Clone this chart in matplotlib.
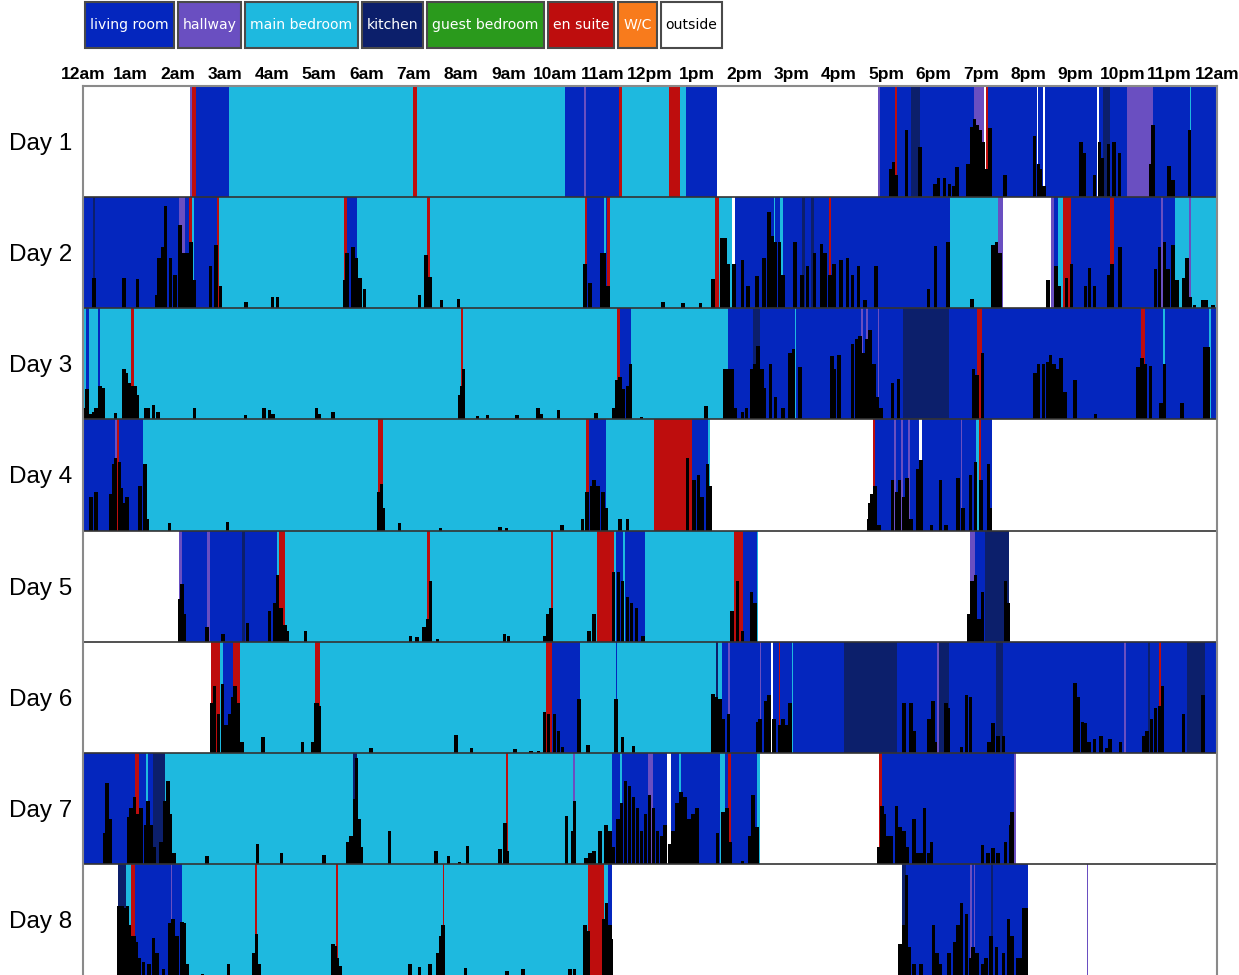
import matplotlib.pyplot as plt
from matplotlib.patches import Rectangle

# legend / rooms
room_names = ['living room', 'hallway', 'main bedroom', 'kitchen', 'guest bedroom', 'en suite', 'W/C', 'outside']
room_codes = ['L', 'H', 'M', 'K', 'G', 'E', 'W', 'O']
room_colors = ['#0426be', '#6a4fc1', '#1eb9df', '#0c1f6b', '#2a9a1c', '#be0d0d', '#f87b1c', '#ffffff']
text_colors = ['white', 'white', 'white', 'white', 'white', 'white', 'white', 'black']

hour_labels = ['12am', '1am', '2am', '3am', '4am', '5am', '6am', '7am', '8am', '9am', '10am', '11am',
               '12pm', '1pm', '2pm', '3pm', '4pm', '5pm', '6pm', '7pm', '8pm', '9pm', '10pm', '11pm', '12am']
day_labels = ['Day 1', 'Day 2', 'Day 3', 'Day 4', 'Day 5', 'Day 6', 'Day 7', 'Day 8']

# room occupancy: (start hour, room code), each lasts until the next start
day1_rooms = [(0, 'O'), (2.26, 'H'), (2.30, 'E'), (2.40, 'L'), (3.09, 'M'), (6.98, 'E'), (7.06, 'M'),
              (10.21, 'L'), (10.60, 'H'), (10.65, 'L'), (11.34, 'E'), (11.40, 'M'), (12.41, 'E'),
              (12.64, 'M'), (12.76, 'L'), (13.42, 'O'), (16.82, 'H'), (16.87, 'L'), (17.19, 'E'),
              (17.23, 'L'), (17.52, 'K'), (17.72, 'L'), (18.85, 'H'), (19.07, 'O'), (19.11, 'E'),
              (19.16, 'L'), (20.18, 'O'), (20.22, 'L'), (20.32, 'O'), (20.36, 'L'), (21.45, 'O'),
              (21.51, 'L'), (21.58, 'K'), (21.74, 'L'), (22.09, 'H'), (22.64, 'L'), (23.42, 'M'),
              (23.46, 'L')]
day2_rooms = [(0, 'L'), (0.21, 'K'), (0.25, 'L'), (2.03, 'H'), (2.15, 'L'), (2.25, 'E'), (2.30, 'M'),
              (2.34, 'L'), (2.83, 'E'), (2.88, 'M'), (5.53, 'E'), (5.59, 'L'), (5.80, 'M'), (7.28, 'E'),
              (7.34, 'M'), (10.63, 'E'), (10.67, 'L'), (11.03, 'M'), (11.06, 'L'), (11.09, 'E'),
              (11.15, 'M'), (13.38, 'E'), (13.46, 'M'), (13.74, 'O'), (13.80, 'L'), (14.62, 'M'),
              (14.65, 'L'), (14.76, 'M'), (14.81, 'L'), (15.22, 'K'), (15.29, 'L'), (15.40, 'K'),
              (15.48, 'L'), (15.78, 'E'), (15.83, 'L'), (18.35, 'M'), (19.37, 'H'), (19.48, 'O'),
              (20.49, 'H'), (20.55, 'L'), (20.64, 'M'), (20.74, 'E'), (20.92, 'L'), (21.74, 'E'),
              (21.81, 'L'), (22.81, 'H'), (22.85, 'L'), (23.11, 'M'), (23.41, 'H'), (23.46, 'M')]
day3_rooms = [(0, 'M'), (0.06, 'L'), (0.12, 'M'), (0.31, 'L'), (0.37, 'M'), (1.01, 'E'), (1.07, 'M'),
              (7.99, 'E'), (8.05, 'M'), (11.30, 'E'), (11.36, 'L'), (11.60, 'M'), (13.66, 'L'),
              (14.18, 'K'), (14.33, 'L'), (15.06, 'M'), (15.09, 'L'), (16.47, 'H'), (16.50, 'L'),
              (16.58, 'H'), (16.61, 'L'), (16.82, 'H'), (16.85, 'L'), (17.35, 'K'), (18.33, 'L'),
              (18.92, 'E'), (19.03, 'L'), (22.40, 'E'), (22.48, 'L'), (22.85, 'M'), (22.91, 'L'),
              (23.84, 'M'), (23.87, 'L')]
day4_rooms = [(0, 'L'), (0.67, 'H'), (0.71, 'E'), (0.77, 'L'), (1.26, 'M'), (6.25, 'E'), (6.34, 'M'),
              (10.65, 'E'), (10.71, 'L'), (11.06, 'M'), (12.08, 'E'), (12.89, 'L'), (13.22, 'M'),
              (13.27, 'O'), (16.72, 'E'), (16.76, 'L'), (17.17, 'H'), (17.20, 'L'), (17.32, 'H'),
              (17.35, 'L'), (17.47, 'H'), (17.50, 'L'), (17.70, 'O'), (17.75, 'L'), (18.58, 'H'),
              (18.61, 'L'), (18.89, 'M'), (18.96, 'E'), (19.00, 'L'), (19.24, 'O')]
day5_rooms = [(0, 'O'), (2.04, 'H'), (2.09, 'L'), (2.63, 'H'), (2.68, 'L'), (3.36, 'K'), (3.42, 'L'),
              (4.10, 'M'), (4.15, 'E'), (4.27, 'M'), (7.29, 'E'), (7.35, 'M'), (9.90, 'E'), (9.94, 'M'),
              (10.88, 'E'), (11.23, 'M'), (11.28, 'L'), (11.42, 'M'), (11.47, 'L'), (11.90, 'M'),
              (13.78, 'E'), (13.96, 'L'), (14.26, 'M'), (14.29, 'O'), (18.78, 'H'), (18.87, 'L'),
              (19.10, 'K'), (19.59, 'O')]
day6_rooms = [(0, 'O'), (2.70, 'E'), (2.91, 'M'), (2.97, 'L'), (3.17, 'E'), (3.33, 'M'), (4.92, 'E'),
              (5.01, 'M'), (9.79, 'E'), (9.92, 'L'), (10.52, 'M'), (11.28, 'L'), (11.31, 'M'),
              (13.40, 'K'), (13.43, 'M'), (13.52, 'L'), (13.66, 'H'), (13.69, 'L'), (14.32, 'H'),
              (14.35, 'L'), (14.56, 'O'), (14.60, 'L'), (14.72, 'E'), (14.76, 'L'), (15.00, 'M'),
              (15.03, 'L'), (16.11, 'K'), (17.22, 'L'), (18.07, 'H'), (18.11, 'K'), (18.33, 'L'),
              (19.33, 'K'), (19.48, 'L'), (22.04, 'H'), (22.07, 'L'), (22.55, 'K'), (22.58, 'L'),
              (22.78, 'E'), (22.81, 'L'), (23.37, 'K'), (23.74, 'L')]
day7_rooms = [(0, 'L'), (1.11, 'E'), (1.19, 'L'), (1.34, 'M'), (1.38, 'L'), (1.49, 'K'), (1.74, 'M'),
              (5.71, 'K'), (5.80, 'M'), (8.95, 'E'), (8.99, 'M'), (10.38, 'H'), (10.42, 'M'),
              (11.19, 'L'), (11.36, 'M'), (11.40, 'L'), (11.95, 'H'), (12.07, 'L'), (12.37, 'O'),
              (12.45, 'L'), (12.62, 'M'), (12.66, 'L'), (13.48, 'M'), (13.59, 'L'), (13.65, 'E'),
              (13.72, 'L'), (14.27, 'M'), (14.32, 'O'), (16.85, 'E'), (16.91, 'L'), (19.70, 'H'),
              (19.74, 'O')]
day8_rooms = [(0, 'O'), (0.75, 'K'), (0.90, 'M'), (1.01, 'E'), (1.09, 'L'), (1.86, 'H'), (1.89, 'L'),
              (2.10, 'M'), (3.64, 'E'), (3.69, 'M'), (5.36, 'E'), (5.39, 'M'), (7.62, 'E'), (7.65, 'M'),
              (10.69, 'E'), (11.02, 'M'), (11.11, 'L'), (11.19, 'O'), (17.33, 'K'), (17.41, 'L'),
              (18.78, 'H'), (18.81, 'L'), (18.85, 'H'), (18.88, 'L'), (19.22, 'K'), (19.25, 'L'),
              (20.00, 'O'), (21.24, 'H'), (21.28, 'O')]

# movement activity: (hour, level as a fraction of the row height)
day1_activity = [(17.09, 0.25), (17.15, 0.32), (17.21, 0.2), (17.43, 0.6), (17.72, 0.45), (18.03, 0.12),
                 (18.11, 0.17), (18.23, 0.17), (18.34, 0.12), (18.42, 0.1), (18.5, 0.27), (18.73, 0.3),
                 (18.81, 0.63), (18.87, 0.7), (18.93, 0.65), (18.99, 0.6), (19.05, 0.5), (19.12, 0.25),
                 (19.2, 0.62), (19.51, 0.2), (20.14, 0.55), (20.22, 0.3), (20.26, 0.25), (20.34, 0.1),
                 (21.12, 0.5), (21.18, 0.4), (21.41, 0.2), (21.51, 0.5), (21.58, 0.35), (21.7, 0.48),
                 (21.82, 0.5), (21.94, 0.4), (22.6, 0.3), (22.64, 0.65), (22.98, 0.28), (23.07, 0.15),
                 (23.42, 0.6)]
day2_activity = [(0.23, 0.27), (0.87, 0.27), (1.15, 0.26), (1.57, 0.12), (1.61, 0.45), (1.69, 0.55),
                 (1.75, 0.92), (1.85, 0.45), (1.95, 0.3), (2.05, 0.75), (2.14, 0.5), (2.21, 0.5),
                 (2.28, 0.6), (2.36, 0.25), (2.7, 0.38), (2.82, 0.57), (2.91, 0.2), (3.45, 0.06),
                 (4.01, 0.1), (4.12, 0.1), (5.53, 0.25), (5.59, 0.5), (5.71, 0.55), (5.78, 0.45),
                 (5.86, 0.27), (5.96, 0.17), (7.12, 0.12), (7.26, 0.48), (7.34, 0.28), (7.59, 0.07),
                 (7.95, 0.08), (10.62, 0.4), (10.73, 0.23), (10.97, 0.5), (11.03, 0.5), (11.11, 0.2),
                 (12.28, 0.06), (12.7, 0.05), (13.07, 0.05), (13.33, 0.26), (13.52, 0.63), (13.59, 0.63),
                 (13.66, 0.4), (13.78, 0.4), (13.96, 0.43), (14.07, 0.2), (14.27, 0.29), (14.41, 0.45),
                 (14.52, 0.87), (14.59, 0.65), (14.66, 0.6), (14.74, 0.6), (14.81, 0.3), (15.07, 0.6),
                 (15.22, 0.3), (15.33, 0.38), (15.48, 0.5), (15.63, 0.58), (15.7, 0.5), (15.81, 0.3),
                 (15.89, 0.4), (16.04, 0.43), (16.18, 0.45), (16.29, 0.3), (16.41, 0.38), (16.55, 0.07),
                 (16.78, 0.38), (17.89, 0.17), (18.04, 0.56), (18.31, 0.6), (18.81, 0.08), (19.26, 0.57),
                 (19.33, 0.6), (19.41, 0.5), (20.42, 0.25), (20.59, 0.38), (20.66, 0.2), (20.81, 0.27),
                 (20.92, 0.4), (21.22, 0.2), (21.3, 0.36), (21.41, 0.2), (21.7, 0.3), (21.78, 0.4),
                 (21.95, 0.55), (22.7, 0.35), (22.78, 0.55), (22.89, 0.6), (22.96, 0.35), (23.07, 0.57),
                 (23.15, 0.25), (23.29, 0.27), (23.37, 0.45), (23.44, 0.1), (23.52, 0.03), (23.7, 0.07),
                 (23.78, 0.07), (23.92, 0.03)]
day3_activity = [(0.02, 0.1), (0.09, 0.27), (0.15, 0.05), (0.23, 0.07), (0.27, 0.1), (0.36, 0.3),
                 (0.42, 0.28), (0.69, 0.06), (0.87, 0.45), (0.92, 0.42), (0.98, 0.33), (1.04, 0.3),
                 (1.11, 0.3), (1.15, 0.22), (1.32, 0.1), (1.38, 0.1), (1.49, 0.13), (1.59, 0.07),
                 (2.36, 0.1), (3.44, 0.04), (3.83, 0.1), (3.95, 0.08), (4.02, 0.05), (4.94, 0.1),
                 (5.0, 0.05), (5.29, 0.07), (7.97, 0.22), (8.01, 0.3), (8.05, 0.45), (8.35, 0.03),
                 (8.56, 0.04), (9.18, 0.04), (9.63, 0.1), (9.69, 0.05), (10.06, 0.08), (10.86, 0.06),
                 (11.23, 0.1), (11.3, 0.35), (11.36, 0.38), (11.44, 0.27), (11.53, 0.3), (11.59, 0.5),
                 (11.82, 0.02), (13.18, 0.12), (13.59, 0.45), (13.66, 0.45), (13.74, 0.45), (13.81, 0.1),
                 (13.96, 0.07), (14.04, 0.1), (14.15, 0.45), (14.22, 0.5), (14.29, 0.66), (14.37, 0.45),
                 (14.41, 0.28), (14.55, 0.5), (14.66, 0.2), (14.81, 0.1), (14.96, 0.6), (15.04, 0.63),
                 (15.18, 0.47), (15.85, 0.57), (15.89, 0.45), (16.0, 0.58), (16.29, 0.68), (16.37, 0.72),
                 (16.44, 0.75), (16.52, 0.6), (16.59, 0.72), (16.66, 0.8), (16.74, 0.5), (16.81, 0.2),
                 (16.89, 0.1), (17.13, 0.33), (17.26, 0.36), (18.85, 0.45), (18.92, 0.4), (19.04, 0.6),
                 (20.15, 0.42), (20.22, 0.5), (20.33, 0.5), (20.41, 0.52), (20.48, 0.58), (20.55, 0.5),
                 (20.63, 0.45), (20.7, 0.55), (20.78, 0.25), (21.0, 0.35), (21.43, 0.05), (22.33, 0.47),
                 (22.41, 0.55), (22.48, 0.5), (22.59, 0.48), (22.81, 0.15), (22.89, 0.5), (23.26, 0.15),
                 (23.74, 0.65), (23.81, 0.65)]
day4_activity = [(0.17, 0.3), (0.27, 0.35), (0.58, 0.33), (0.65, 0.6), (0.69, 0.65), (0.77, 0.62),
                 (0.81, 0.38), (0.86, 0.25), (0.93, 0.3), (1.21, 0.4), (1.31, 0.6), (1.36, 0.1),
                 (1.83, 0.07), (3.06, 0.08), (6.27, 0.35), (6.32, 0.42), (6.36, 0.2), (6.7, 0.07),
                 (7.57, 0.02), (8.82, 0.03), (8.96, 0.02), (10.14, 0.05), (10.57, 0.1), (10.67, 0.35),
                 (10.76, 0.4), (10.81, 0.45), (10.9, 0.4), (11.0, 0.35), (11.07, 0.2), (11.37, 0.1),
                 (11.52, 0.1), (12.79, 0.65), (12.93, 0.45), (13.03, 0.5), (13.1, 0.3), (13.22, 0.6),
                 (13.28, 0.4), (16.63, 0.1), (16.66, 0.25), (16.7, 0.33), (16.76, 0.4), (16.85, 0.05),
                 (17.13, 0.45), (17.22, 0.35), (17.28, 0.45), (17.37, 0.3), (17.44, 0.47), (17.52, 0.1),
                 (17.66, 0.55), (17.74, 0.63), (17.96, 0.05), (18.15, 0.45), (18.26, 0.05), (18.52, 0.47),
                 (18.63, 0.2), (18.78, 0.5), (18.89, 0.62), (19.0, 0.45), (19.16, 0.6), (19.21, 0.2)]
day5_activity = [(2.04, 0.38), (2.09, 0.52), (2.14, 0.25), (2.63, 0.13), (2.96, 0.07), (3.48, 0.17),
                 (3.95, 0.28), (4.05, 0.35), (4.12, 0.6), (4.19, 0.3), (4.27, 0.15), (4.33, 0.1),
                 (4.71, 0.1), (6.93, 0.05), (7.07, 0.04), (7.22, 0.13), (7.29, 0.2), (7.35, 0.55),
                 (7.5, 0.02), (8.92, 0.07), (9.01, 0.05), (9.77, 0.05), (9.84, 0.25), (9.91, 0.3),
                 (10.71, 0.1), (10.81, 0.25), (11.23, 0.63), (11.33, 0.63), (11.42, 0.55), (11.52, 0.4),
                 (11.61, 0.35), (11.71, 0.3), (11.85, 0.05), (13.74, 0.28), (13.85, 0.55), (13.96, 0.1),
                 (14.15, 0.45), (14.22, 0.35), (18.74, 0.25), (18.81, 0.55), (18.89, 0.6), (18.96, 0.2),
                 (19.04, 0.45), (19.52, 0.55), (19.58, 0.35)]
day6_activity = [(2.72, 0.45), (2.78, 0.6), (2.87, 0.35), (2.95, 0.62), (3.03, 0.25), (3.1, 0.35),
                 (3.16, 0.5), (3.22, 0.6), (3.29, 0.45), (3.37, 0.1), (3.81, 0.14), (4.65, 0.1),
                 (4.87, 0.1), (4.92, 0.45), (4.96, 0.45), (5.01, 0.42), (6.09, 0.04), (7.89, 0.16),
                 (8.22, 0.04), (9.14, 0.03), (9.48, 0.02), (9.64, 0.02), (9.77, 0.37), (9.85, 0.35),
                 (9.98, 0.35), (10.06, 0.2), (10.15, 0.05), (10.5, 0.48), (10.69, 0.07), (11.28, 0.48),
                 (11.42, 0.14), (11.65, 0.06), (13.33, 0.53), (13.41, 0.5), (13.48, 0.48), (13.55, 0.3),
                 (13.66, 0.35), (14.29, 0.28), (14.33, 0.3), (14.44, 0.47), (14.52, 0.52), (14.63, 0.3),
                 (14.74, 0.25), (14.81, 0.3), (14.89, 0.25), (14.96, 0.45), (17.38, 0.45), (17.52, 0.45),
                 (17.59, 0.2), (17.91, 0.3), (17.99, 0.47), (18.04, 0.1), (18.26, 0.45), (18.32, 0.4),
                 (18.59, 0.05), (18.7, 0.52), (18.78, 0.5), (19.18, 0.1), (19.26, 0.27), (19.37, 0.15),
                 (19.48, 0.15), (21.0, 0.63), (21.06, 0.5), (21.15, 0.28), (21.21, 0.27), (21.29, 0.1),
                 (21.41, 0.12), (21.55, 0.15), (21.66, 0.04), (21.74, 0.12), (21.96, 0.1), (22.44, 0.15),
                 (22.52, 0.2), (22.61, 0.3), (22.7, 0.4), (22.78, 0.42), (22.85, 0.6), (23.29, 0.35),
                 (23.7, 0.52)]
day7_activity = [(0.46, 0.28), (0.51, 0.73), (0.57, 0.4), (0.96, 0.42), (1.02, 0.5), (1.09, 0.6),
                 (1.15, 0.45), (1.23, 0.5), (1.32, 0.35), (1.38, 0.57), (1.44, 0.35), (1.51, 0.15),
                 (1.65, 0.2), (1.74, 0.57), (1.8, 0.75), (1.85, 0.45), (1.93, 0.1), (2.63, 0.07),
                 (3.69, 0.18), (4.2, 0.1), (5.1, 0.08), (5.61, 0.2), (5.67, 0.25), (5.75, 0.58),
                 (5.79, 0.95), (5.84, 0.4), (5.88, 0.15), (6.49, 0.3), (7.47, 0.12), (7.74, 0.07),
                 (7.97, 0.02), (8.14, 0.16), (8.82, 0.13), (8.93, 0.37), (8.97, 0.12), (10.23, 0.43),
                 (10.36, 0.3), (10.4, 0.57), (10.65, 0.05), (10.73, 0.1), (10.82, 0.12), (10.94, 0.3),
                 (11.07, 0.35), (11.15, 0.3), (11.23, 0.15), (11.32, 0.4), (11.4, 0.55), (11.48, 0.75),
                 (11.57, 0.7), (11.65, 0.6), (11.74, 0.5), (11.82, 0.3), (11.9, 0.45), (11.99, 0.62),
                 (12.07, 0.5), (12.16, 0.3), (12.24, 0.25), (12.32, 0.35), (12.41, 0.18), (12.49, 0.3),
                 (12.57, 0.55), (12.66, 0.65), (12.74, 0.6), (12.82, 0.4), (12.91, 0.45), (12.99, 0.5),
                 (13.43, 0.28), (13.55, 0.47), (13.63, 0.5), (13.7, 0.2), (13.96, 0.03), (14.11, 0.25),
                 (14.18, 0.62), (14.26, 0.33), (16.85, 0.15), (16.91, 0.52), (16.96, 0.45), (17.04, 0.25),
                 (17.11, 0.25), (17.22, 0.52), (17.29, 0.33), (17.37, 0.3), (17.44, 0.15), (17.59, 0.4),
                 (17.66, 0.1), (17.74, 0.1), (17.81, 0.5), (17.89, 0.1), (17.96, 0.2), (19.04, 0.17),
                 (19.15, 0.1), (19.26, 0.14), (19.37, 0.1), (19.52, 0.2), (19.63, 0.35), (19.66, 0.47)]
day8_activity = [(0.75, 0.62), (0.82, 0.62), (0.87, 0.6), (0.94, 0.62), (0.98, 0.45), (1.02, 0.35),
                 (1.09, 0.35), (1.13, 0.3), (1.19, 0.15), (1.28, 0.12), (1.4, 0.1), (1.49, 0.33),
                 (1.57, 0.2), (1.7, 0.05), (1.84, 0.47), (1.9, 0.5), (1.99, 0.35), (2.1, 0.48),
                 (2.15, 0.47), (2.2, 0.1), (2.53, 0.01), (3.08, 0.1), (3.62, 0.2), (3.67, 0.37),
                 (3.72, 0.1), (5.29, 0.28), (5.34, 0.26), (5.39, 0.15), (5.44, 0.08), (6.92, 0.1),
                 (7.12, 0.07), (7.34, 0.1), (7.51, 0.2), (7.57, 0.35), (7.62, 0.45), (8.1, 0.06),
                 (8.97, 0.04), (9.31, 0.05), (10.31, 0.05), (10.4, 0.05), (10.63, 0.45), (10.69, 0.4),
                 (11.03, 0.5), (11.08, 0.65), (11.15, 0.45), (11.19, 0.32), (17.29, 0.28), (17.37, 0.45),
                 (17.43, 0.9), (17.48, 0.25), (17.59, 0.1), (17.74, 0.1), (18.0, 0.45), (18.07, 0.2),
                 (18.15, 0.1), (18.33, 0.2), (18.44, 0.3), (18.52, 0.45), (18.59, 0.65), (18.7, 0.55),
                 (18.78, 0.15), (18.84, 0.25), (18.92, 0.2), (19.04, 0.1), (19.11, 0.15), (19.22, 0.35),
                 (19.33, 0.25), (19.48, 0.2), (19.59, 0.5), (19.66, 0.35), (19.78, 0.15), (19.85, 0.15),
                 (19.92, 0.6), (19.97, 0.6)]

days_rooms = [day1_rooms, day2_rooms, day3_rooms, day4_rooms, day5_rooms, day6_rooms, day7_rooms, day8_rooms]
days_activity = [day1_activity, day2_activity, day3_activity, day4_activity,
                 day5_activity, day6_activity, day7_activity, day8_activity]

W, H = 1239, 975
fig = plt.figure(figsize=(W / 100, H / 100), dpi=100)
ax = fig.add_axes([83 / W, 0, (1217 - 83) / W, (975 - 86) / H])

color_of = dict(zip(room_codes, room_colors))

for i, (segs, acts) in enumerate(zip(days_rooms, days_activity)):
    starts = [s for s, _ in segs]
    ends = starts[1:] + [24]
    widths = [e - s for s, e in zip(starts, ends)]
    ax.barh([i + 0.5] * len(starts), widths, left=starts, height=1,
            color=[color_of[c] for _, c in segs], linewidth=0)
    # activity bars grow up from the bottom of each row
    ax.bar([t for t, _ in acts], [-v for _, v in acts], bottom=i + 1, width=0.075,
           color='black', linewidth=0)

ax.hlines(range(1, 8), 0, 24, color='#333333', lw=1.2)

ax.set_xlim(0, 24)
ax.set_ylim(8, 0)
ax.xaxis.tick_top()
ax.set_xticks(range(25))
ax.set_xticklabels(hour_labels, fontsize=12.5, fontweight='bold', family='Liberation Sans')
ax.set_yticks([i + 0.5 for i in range(8)])
ax.set_yticklabels(day_labels, fontsize=17.5, family='Liberation Sans')
ax.tick_params(axis='x', length=0, pad=3)
ax.tick_params(axis='y', length=0, pad=8)
for side in ['top', 'left', 'right']:
    ax.spines[side].set_color('#8a8a8a')
    ax.spines[side].set_linewidth(1.5)
ax.spines['bottom'].set_visible(False)

# room legend as a row of coloured boxes
renderer = fig.canvas.get_renderer()
x = 85
for name, col, tcol in zip(room_names, room_colors, text_colors):
    t = fig.text(0, 0, name, fontsize=10.1, family='DejaVu Sans', color=tcol,
                 ha='center', va='center', zorder=3)
    w = t.get_window_extent(renderer).width + 10
    fig.add_artist(Rectangle((x / W, 1 - 48 / H), w / W, 46 / H, transform=fig.transFigure,
                             facecolor=col, edgecolor='#4a4a4a', lw=1.5, zorder=2))
    t.set_position(((x + w / 2) / W, 1 - 25 / H))
    x += w + 4

fig.savefig('out.png', dpi=100)
